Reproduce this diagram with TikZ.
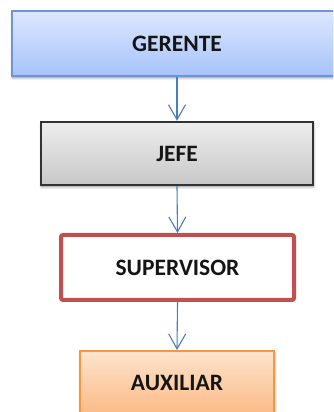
\documentclass[tikz,border=0pt]{standalone}
\usepackage{fontspec}
\setmainfont{Carlito}
\usetikzlibrary{arrows.meta,shadows.blur}

\definecolor{gerTop}{HTML}{DDE7FD}
\definecolor{gerBot}{HTML}{A6C3FB}
\definecolor{gerLine}{HTML}{6F95D6}
\definecolor{jefTop}{HTML}{EDEDED}
\definecolor{jefBot}{HTML}{C8C8C8}
\definecolor{jefLine}{HTML}{333333}
\definecolor{supLine}{HTML}{C0504D}
\definecolor{auxTop}{HTML}{FDE4CC}
\definecolor{auxBot}{HTML}{FBBA86}
\definecolor{auxLine}{HTML}{F79646}
\definecolor{linkCol}{HTML}{4A7EBB}
\definecolor{textCol}{HTML}{151515}

\tikzset{
  rolebox/.style={rectangle, inner sep=0pt, text=textCol,
    font=\fontsize{23.5}{25}\selectfont\bfseries},
  softshadow/.style={blur shadow={shadow xshift=0.6pt, shadow yshift=-1.8pt,
    shadow blur radius=2.5pt, shadow blur steps=6, shadow opacity=45}},
  link/.style={draw=linkCol, line width=1.1pt,
    -{Straight Barb[length=15pt,width=17pt,line width=1.1pt]}}
}

\begin{document}
\begin{tikzpicture}[x=1pt,y=1pt]
  \useasboundingbox (0,0) rectangle (333,412);
  \clip (0,0) rectangle (333,412);

  % hierarchy boxes, top to bottom
  \node[rolebox, softshadow, draw=gerLine, line width=2pt,
        top color=gerTop, bottom color=gerBot,
        minimum width=330pt, minimum height=65pt]
        (ger) at (177,368.5) {GERENTE};

  \node[rolebox, softshadow, draw=jefLine, line width=2.4pt,
        top color=jefTop, bottom color=jefBot,
        minimum width=272pt, minimum height=63pt]
        (jef) at (177,258.5) {JEFE};

  \node[rolebox, draw=supLine, line width=4pt, fill=white,
        rounded corners=2pt,
        minimum width=233pt, minimum height=65pt]
        (sup) at (177.5,144.5) {SUPERVISOR};

  \node[rolebox, softshadow, draw=auxLine, line width=2pt,
        top color=auxTop, bottom color=auxBot,
        minimum width=194pt, minimum height=63pt]
        (aux) at (177,29.5) {AUXILIAR};

  % reporting lines
  \draw[link] (ger.south) -- (jef.north);
  \draw[link] (jef.south) -- (sup.north);
  \draw[link] (sup.south) -- (aux.north);
\end{tikzpicture}
\end{document}
